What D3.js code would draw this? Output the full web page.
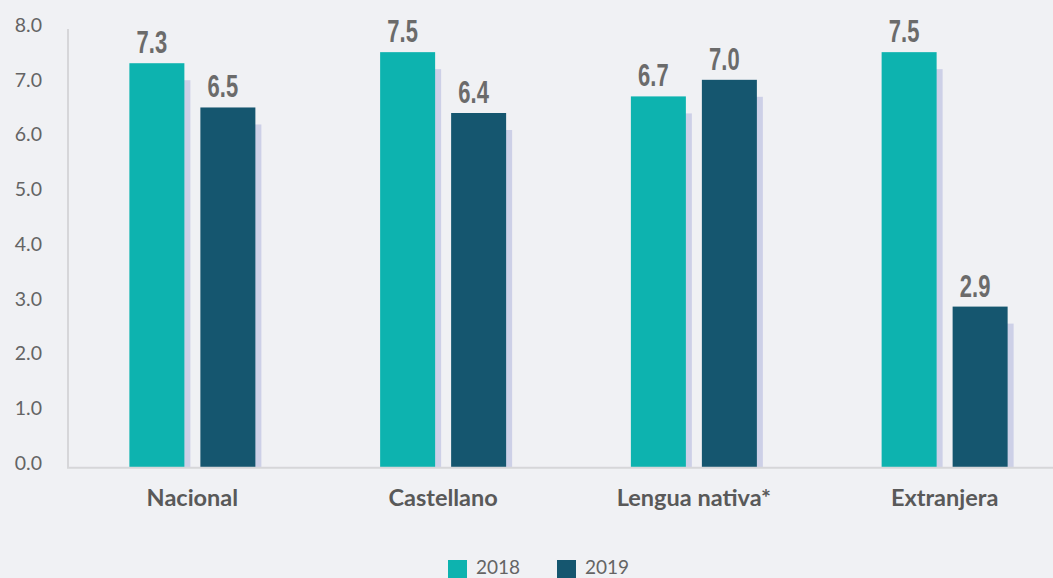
<!DOCTYPE html>
<html>
<head>
<meta charset="utf-8">
<script src="https://cdn.jsdelivr.net/npm/d3@7"></script>
<style>
  html, body { margin: 0; padding: 0; background: #f0f1f4; }
  svg { display: block; }
</style>
</head>
<body>
<svg id="chart" width="1053" height="578"></svg>
<script>
// Values per category, two years
const categories = ["Nacional", "Castellano", "Lengua nativa*", "Extranjera"];
const years = ["2018", "2019"];
const values2018 = [7.3, 7.5, 6.7, 7.5];
const values2019 = [6.5, 6.4, 7.0, 2.9];
const yTicks = [0, 1, 2, 3, 4, 5, 6, 7, 8];

const colors = { "2018": "#0db3af", "2019": "#15566f" };
const shadowColor = "#cdd0e7";

const W = 1053, H = 578;
const svg = d3.select("#chart");

const rows = categories.map((c, i) => ({
  category: c,
  series: [
    { year: "2018", value: values2018[i] },
    { year: "2019", value: values2019[i] }
  ]
}));

const groupW = 126;
const x0 = d3.scaleBand().domain(categories).range([67, 1070]);
const x1 = d3.scaleBand().domain(years).range([0, groupW]).paddingInner(16 / 71).paddingOuter(0);
const barW = x1.bandwidth();
const groupOffset = (x0.bandwidth() - groupW) / 2;
const y = d3.scaleLinear().domain([0, 8]).range([467, 24.5]);

// Y axis tick labels
const yAxis = d3.axisLeft(y).tickValues(yTicks).tickFormat(d3.format(".1f")).tickSize(0).tickPadding(0);
const gy = svg.append("g").attr("transform", "translate(42,0)").call(yAxis);
gy.select(".domain").remove();
gy.selectAll("text")
  .attr("fill", "#646464")
  .attr("font-family", "Lato, sans-serif")
  .attr("font-size", 19.5)
  .attr("dy", "0.32em")
  .attr("y", d => -4 + d * 0.6);

// Vertical axis line
svg.append("line")
  .attr("x1", 68).attr("x2", 68).attr("y1", 29).attr("y2", y(0))
  .attr("stroke", "#d6d6d9").attr("stroke-width", 2);

const groups = svg.selectAll("g.cat").data(rows).join("g")
  .attr("class", "cat")
  .attr("transform", d => `translate(${x0(d.category) + groupOffset},0)`);

// Drop shadows behind bars
groups.selectAll("rect.shadow").data(d => d.series).join("rect")
  .attr("class", "shadow")
  .attr("x", d => x1(d.year) + 6)
  .attr("y", d => y(d.value) + 17)
  .attr("width", barW)
  .attr("height", d => y(0) - y(d.value) - 17)
  .attr("fill", shadowColor);

groups.selectAll("rect.bar").data(d => d.series).join("rect")
  .attr("class", "bar")
  .attr("x", d => x1(d.year))
  .attr("y", d => y(d.value))
  .attr("width", barW)
  .attr("height", d => y(0) - y(d.value))
  .attr("fill", d => colors[d.year]);

// Value labels, bold and horizontally condensed
groups.selectAll("text.val").data(d => d.series).join("text")
  .attr("class", "val")
  .attr("transform", d => `translate(${x1(d.year) + barW / 2 - 5},${y(d.value) - 10}) scale(0.72,1)`)
  .attr("text-anchor", "middle")
  .attr("font-family", "'Liberation Sans', Arial, sans-serif")
  .attr("font-weight", "bold")
  .attr("font-size", 30.5)
  .attr("fill", "#6b6b6b")
  .text(d => d.value.toFixed(1));

// Baseline
svg.append("line")
  .attr("x1", 67).attr("x2", W).attr("y1", y(0) + 0.7).attr("y2", y(0) + 0.7)
  .attr("stroke", "#d6d6d9").attr("stroke-width", 2);

// Category labels
svg.selectAll("text.cat").data(categories).join("text")
  .attr("class", "cat")
  .attr("x", d => x0(d) + x0.bandwidth() / 2)
  .attr("y", 506)
  .attr("text-anchor", "middle")
  .attr("font-family", "Lato, sans-serif")
  .attr("font-weight", "bold")
  .attr("font-size", 23.5)
  .attr("fill", "#595959")
  .text(d => d);

// Legend
const legend = svg.append("g");
const legendX = [448, 557];
years.forEach((yr, i) => {
  legend.append("rect")
    .attr("x", legendX[i]).attr("y", 560).attr("width", 19).attr("height", 19)
    .attr("fill", colors[yr]);
  legend.append("text")
    .attr("x", legendX[i] + 28).attr("y", 574)
    .attr("font-family", "Lato, sans-serif")
    .attr("font-size", 19)
    .attr("fill", "#646464")
    .text(yr);
});
</script>
</body>
</html>
